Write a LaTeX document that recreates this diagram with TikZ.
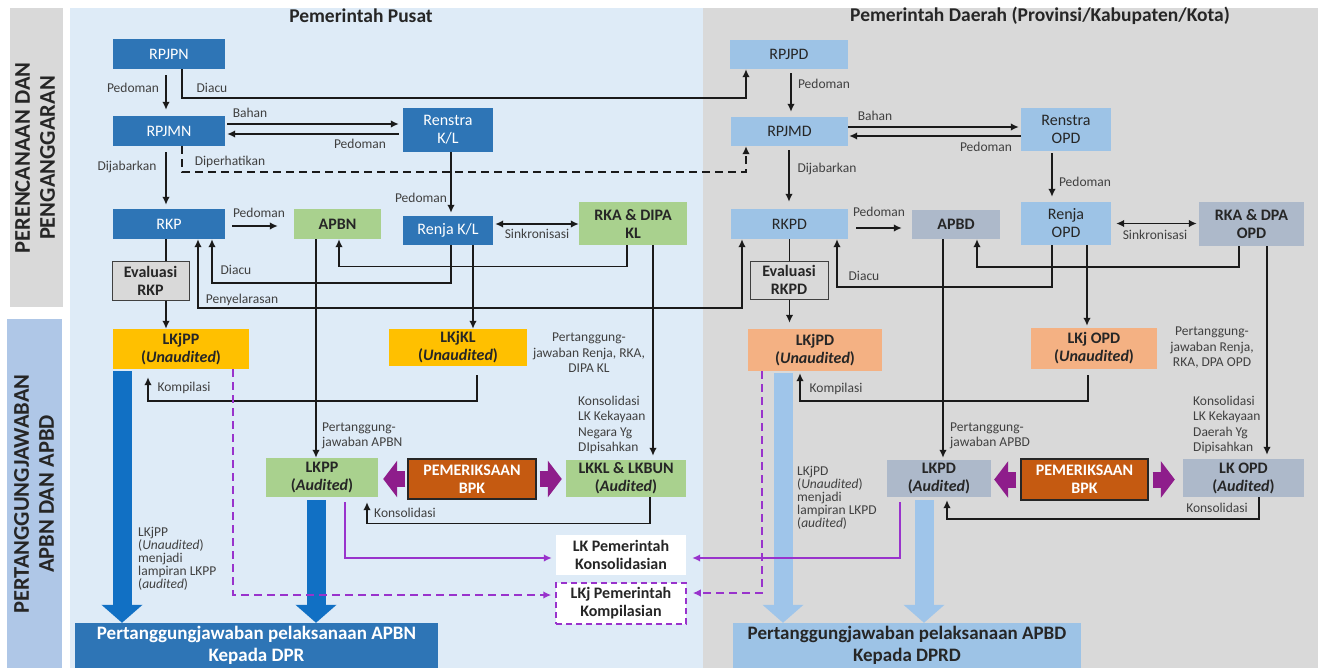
\documentclass[tikz,border=0pt]{standalone}
\usepackage{fontspec}
\setmainfont{Carlito}
\usetikzlibrary{arrows.meta}

\definecolor{cPusat}{HTML}{2E75B6}
\definecolor{cDaerah}{HTML}{9DC3E6}
\definecolor{cHijau}{HTML}{A9D18E}
\definecolor{cKuning}{HTML}{FFC000}
\definecolor{cPeach}{HTML}{F4B183}
\definecolor{cAbuBiru}{HTML}{ADB9CA}
\definecolor{cBPK}{HTML}{C55A11}
\definecolor{cPanelBiru}{HTML}{DEEBF7}
\definecolor{cPanelAbu}{HTML}{D9D9D9}
\definecolor{cBandBiru}{HTML}{AFC7E7}
\definecolor{cPanah}{HTML}{1170C4}
\definecolor{cPanahMuda}{HTML}{9FC5EA}
\definecolor{cUnguTebal}{HTML}{8E1D8B}
\definecolor{cUngu}{HTML}{9933CC}
\definecolor{cGaris}{HTML}{1A1A1A}
\definecolor{cTeks}{HTML}{262626}
\definecolor{cKet}{HTML}{404040}

\newcommand{\fontkotak}{\fontsize{16}{18}\selectfont}
\newcommand{\fontket}{\fontsize{13.5}{15.5}\selectfont}
\newcommand{\fontketrapat}{\fontsize{13.5}{13}\selectfont}
\newcommand{\fontjudul}{\fontsize{19.5}{21}\selectfont\bfseries}
\newcommand{\fontband}{\fontsize{22.5}{25}\selectfont\bfseries}
\newcommand{\fontbesar}{\fontsize{19}{22}\selectfont\bfseries}

\begin{document}
\begin{tikzpicture}[x=1pt, y=-1pt,
  kotak/.style={rectangle, inner sep=0pt, align=center, font=\fontkotak, text=cTeks},
  kotakpusat/.style={kotak, fill=cPusat, text=white},
  kotakdaerah/.style={kotak, fill=cDaerah},
  kotakhijau/.style={kotak, fill=cHijau, font=\fontkotak\bfseries},
  kotakkuning/.style={kotak, fill=cKuning, font=\fontkotak\bfseries},
  kotakpeach/.style={kotak, fill=cPeach, font=\fontkotak\bfseries},
  kotakabu/.style={kotak, fill=cAbuBiru, font=\fontkotak\bfseries},
  kotakeval/.style={kotak, fill=cPanelAbu, draw=cKet, line width=1pt, font=\fontkotak\bfseries},
  kotakbpk/.style={kotak, fill=cBPK, draw=cTeks, line width=1.2pt, text=white, font=\fontkotak\bfseries},
  kotakputih/.style={kotak, fill=white, font=\fontkotak\bfseries},
  ket/.style={inner sep=0pt, font=\fontket, text=cKet},
  panah/.style={line width=1.5pt, draw=cGaris, -{Latex[length=8pt,width=7.5pt]}},
  panahdua/.style={line width=1.5pt, draw=cGaris, {Latex[length=8pt,width=7.5pt]}-{Latex[length=8pt,width=7.5pt]}},
  garis/.style={line width=1.5pt, draw=cGaris},
  panahbesar/.style={line width=19pt, -{Triangle[width=40pt,length=18pt]}},
  panahbpk/.style={line width=16pt, draw=cUnguTebal, -{Triangle[width=36pt,length=14pt]}},
  garisungu/.style={line width=1.5pt, draw=cUngu, -{Latex[length=8pt,width=7.5pt]}},
  putus/.style={dash pattern=on 8pt off 5pt}]

\useasboundingbox (0,0) rectangle (1321,671);
\fill[white] (0,0) rectangle (1321,671);
\fill[cPanelBiru] (70,8) rectangle (703,668);
\fill[cPanelAbu] (703,8) rectangle (1318,668);
\fill[cPanelAbu] (10,8) rectangle (63,307);
\fill[cBandBiru] (7,319) rectangle (62,668);

\node[rotate=90, align=center, font=\fontband, text=cTeks] (bandrencana) at (35,158) {PERENCANAAN DAN\\PENGANGGARAN};
\node[rotate=90, align=center, font=\fontband, text=cTeks] (bandtanggung) at (34,494) {PERTANGGUNGJAWABAN\\APBN DAN APBD};

\node[font=\fontjudul, text=cTeks] (judulpusat) at (361,16) {Pemerintah Pusat};
\node[font=\fontjudul, text=cTeks] (juduldaerah) at (1040,16) {Pemerintah Daerah (Provinsi/Kabupaten/Kota)};

% pemerintah pusat
\node[kotakpusat, minimum width=112pt, minimum height=30pt] (rpjpn) at (169,54) {RPJPN};
\node[kotakpusat, minimum width=112pt, minimum height=30pt] (rpjmn) at (169,131) {RPJMN};
\node[kotakpusat, minimum width=112pt, minimum height=30pt] (rkp) at (169,224) {RKP};
\node[kotakpusat, minimum width=90pt, minimum height=44pt] (renstrakl) at (448,130) {Renstra\\K/L};
\node[kotakpusat, minimum width=90pt, minimum height=29pt] (renjakl) at (448,230.5) {Renja K/L};
\node[kotakhijau, minimum width=87pt, minimum height=30pt] (apbn) at (337.5,224) {APBN};
\node[kotakhijau, minimum width=108pt, minimum height=43pt] (rkadipa) at (633,223.5) {RKA \& DIPA\\KL};
\node[kotakeval, minimum width=77pt, minimum height=39pt] (evalrkp) at (150.5,280.5) {Evaluasi\\RKP};
\node[kotakkuning, minimum width=136pt, minimum height=40pt] (lkjpp) at (181,349) {LKjPP\\(\textit{Unaudited})};
\node[kotakkuning, minimum width=138pt, minimum height=37pt] (lkjkl) at (458,347.5) {LKjKL\\(\textit{Unaudited})};
\node[kotakhijau, minimum width=112pt, minimum height=39pt] (lkpp) at (322,477.5) {LKPP\\(\textit{Audited})};
\node[kotakbpk, minimum width=128pt, minimum height=40pt] (bpkpusat) at (472,479) {PEMERIKSAAN\\BPK};
\node[kotakhijau, minimum width=120pt, minimum height=37pt] (lkkl) at (626,478.5) {LKKL \& LKBUN\\(\textit{Audited})};
\node[kotakputih, minimum width=130pt, minimum height=40pt] (lkkons) at (621,555) {LK Pemerintah\\Konsolidasian};
\node[kotakputih, draw=cUngu, line width=1.5pt, dash pattern=on 6pt off 4pt, minimum width=130pt, minimum height=41pt] (lkjkomp) at (621,603.5) {LKj Pemerintah\\Kompilasian};
\node[kotak, fill=cPusat, text=white, font=\fontbesar, minimum width=363pt, minimum height=45pt] (prtapbn) at (256.5,645.5) {Pertanggungjawaban pelaksanaan APBN\\Kepada DPR};

% pemerintah daerah
\node[kotakdaerah, minimum width=118pt, minimum height=29pt] (rpjpd) at (789,54.5) {RPJPD};
\node[kotakdaerah, minimum width=117pt, minimum height=29pt] (rpjmd) at (789.5,131.5) {RPJMD};
\node[kotakdaerah, minimum width=117pt, minimum height=30pt] (rkpd) at (789.5,224) {RKPD};
\node[kotakdaerah, minimum width=90pt, minimum height=43pt] (renstraopd) at (1066,129.5) {Renstra\\OPD};
\node[kotakabu, minimum width=88pt, minimum height=29pt] (apbd) at (956,224.5) {APBD};
\node[kotakdaerah, minimum width=90pt, minimum height=43pt] (renjaopd) at (1066,223.5) {Renja\\OPD};
\node[kotakabu, minimum width=105pt, minimum height=44pt] (rkadpa) at (1251.5,224) {RKA \& DPA\\OPD};
\node[kotakeval, minimum width=78pt, minimum height=38pt] (evalrkpd) at (789,280) {Evaluasi\\RKPD};
\node[kotakpeach, minimum width=134pt, minimum height=42pt] (lkjpd) at (815,350) {LKjPD\\(\textit{Unaudited})};
\node[kotakpeach, minimum width=126pt, minimum height=41pt] (lkjopd) at (1094,348.5) {LKj OPD\\(\textit{Unaudited})};
\node[kotakabu, minimum width=104pt, minimum height=37pt] (lkpd) at (939,478.5) {LKPD\\(\textit{Audited})};
\node[kotakbpk, minimum width=127pt, minimum height=41pt] (bpkdaerah) at (1084.5,479.5) {PEMERIKSAAN\\BPK};
\node[kotakabu, minimum width=121pt, minimum height=38pt] (lkopd) at (1243.5,478) {LK OPD\\(\textit{Audited})};
\node[kotak, fill=cDaerah, font=\fontbesar, minimum width=348pt, minimum height=45pt] (prtapbd) at (907,645.5) {Pertanggungjawaban pelaksanaan APBD\\Kepada DPRD};

% alur pusat
\draw[panah, shorten <=6pt, shorten >=6pt] ([xshift=-3pt]rpjpn.south) -- ([xshift=-3pt]rpjmn.north);
\draw[panah] ([xshift=13pt]rpjpn.south) -- ++(0,29) -| ([xshift=-43pt]rpjpd.south);
\draw[panah, shorten <=2pt, shorten >=4pt] ([yshift=7pt]rpjmn.east) -- ([yshift=6pt]renstrakl.west);
\draw[panah, shorten <=4pt, shorten >=2pt] ([yshift=-4pt]renstrakl.west) -- ([yshift=-3pt]rpjmn.east);
\draw[panah, putus] ([xshift=13pt]rpjmn.south) -- ++(0,26) -| ([xshift=-43.5pt]rpjmd.south);
\draw[panah, shorten <=6pt, shorten >=4pt] ([xshift=-3pt]rpjmn.south) -- ([xshift=-3pt]rkp.north);
\draw[panah, shorten <=7pt, shorten >=16pt] ([yshift=-2pt]rkp.east) -- ([yshift=-2pt]rkp.east -| apbn.west);
\draw[panah, shorten >=3pt] ([xshift=3pt]renstrakl.south) -- ([xshift=3pt]renjakl.north);
\draw[panahdua, shorten <=2pt] ([yshift=6.5pt]renjakl.east) -- ([yshift=6.5pt]renjakl.east -| rkadipa.west);
\draw[panah] ([xshift=3pt]renjakl.south) -- ++(0,38) -| ([xshift=43pt]rkp.south);
\draw[panah] ([xshift=-6pt]rkadipa.south) -- ++(0,21.5) -| ([xshift=1.5pt]apbn.south);
\draw[garis] ([xshift=-3pt]rkp.south) -- ([xshift=-3pt]rkp.south |- evalrkp.north);
\draw[panah] ([xshift=-3pt]rkp.south |- evalrkp.south) -- ([xshift=-3pt]rkp.south |- lkjpp.north);
\draw[panahdua] ([xshift=29pt]rkp.south) -- ++(0,69) -| ([xshift=-47.5pt]rkpd.south);
\draw[panah] ([xshift=-21.5pt]apbn.south) -- ([xshift=-21.5pt]apbn.south |- lkpp.north);
\draw[panah] ([xshift=25pt]renjakl.south) -- ([xshift=25pt]renjakl.south |- lkjkl.north);
\draw[panah, shorten >=4pt] ([xshift=20pt]rkadipa.south) -- ([xshift=20pt]rkadipa.south |- lkkl.north);
\draw[panah, shorten <=9pt, shorten >=8pt] ([xshift=19pt]lkjkl.south) -- ++(0,35) -| ([xshift=-33pt]lkjpp.south);
\draw[panah, shorten >=5pt] ([xshift=24pt]lkkl.south) -- ++(0,26.5) -| ([xshift=45pt]lkpp.south);
\draw[panahbesar, draw=cPanah, shorten <=2pt] ([xshift=-59pt]lkjpp.south) -- ([xshift=-59pt]lkjpp.south |- prtapbn.north);
\draw[panahbesar, draw=cPanah, shorten <=3pt] ([xshift=-6pt]lkpp.south) -- ([xshift=-6pt]lkpp.south |- prtapbn.north);
\draw[panahbpk, shorten <=2pt, shorten >=5pt] (bpkpusat.west) -- (bpkpusat.west -| lkpp.east);
\draw[panahbpk, shorten <=3pt, shorten >=4pt] (bpkpusat.east) -- (bpkpusat.east -| lkkl.west);
\draw[garisungu, shorten <=5pt, shorten >=4pt] ([xshift=23pt]lkpp.south) |- ([yshift=-3pt]lkkons.west);
\draw[garisungu, putus, shorten >=4pt] ([xshift=52pt]lkjpp.south) |- ([yshift=8.5pt]lkjkomp.west);

% alur daerah
\draw[panah, shorten <=4pt, shorten >=5pt] ([xshift=2pt]rpjpd.south) -- ([xshift=1.5pt]rpjmd.north);
\draw[panah, shorten >=2pt] ([yshift=4.5pt]rpjmd.east) -- ([yshift=2.5pt]renstraopd.west);
\draw[panah, shorten >=1pt] ([yshift=-6.5pt]renstraopd.west) -- ([yshift=-4.5pt]rpjmd.east);
\draw[panah, shorten <=4pt, shorten >=7pt] ([xshift=-0.5pt]rpjmd.south) -- ([xshift=-0.5pt]rkpd.north);
\draw[panah, shorten <=2pt, shorten >=5pt] ([xshift=-14pt]renstraopd.south) -- ([xshift=-14pt]renjaopd.north);
\draw[panah, shorten <=8pt, shorten >=10pt] ([yshift=-4pt]rkpd.east) -- ([yshift=-4pt]rkpd.east -| apbd.west);
\draw[panahdua, shorten <=5pt, shorten >=2pt] (renjaopd.east) -- (renjaopd.east -| rkadpa.west);
\draw[panah] ([xshift=-14pt]renjaopd.south) -- ++(0,42) -| ([xshift=47.5pt]rkpd.south);
\draw[panah] ([xshift=-12.5pt]rkadpa.south) -- ++(0,21) -| ([xshift=21pt]apbd.south);
\draw[garis] (rkpd.south) -- (rkpd.south |- evalrkpd.north);
\draw[panah, shorten >=6pt] (rkpd.south |- evalrkpd.south) -- (rkpd.south |- lkjpd.north);
\draw[panah, shorten >=2pt] ([xshift=-13pt]apbd.south) -- ([xshift=-13pt]apbd.south |- lkpd.north);
\draw[panah, shorten >=2pt] ([xshift=21pt]renjaopd.south) -- ([xshift=21pt]renjaopd.south |- lkjopd.north);
\draw[panah, shorten >=4pt] ([xshift=15.5pt]rkadpa.south) -- ([xshift=15.5pt]rkadpa.south |- lkopd.north);
\draw[panah, shorten <=6pt, shorten >=2pt] ([xshift=-6pt]lkjopd.south) -- ++(0,32) -| ([xshift=-15pt]lkjpd.south);
\draw[panah, shorten >=3pt] ([xshift=15.5pt]lkopd.south) -- ++(0,22) -| ([xshift=8pt]lkpd.south);
\draw[panahbesar, draw=cPanahMuda, shorten <=2pt] ([xshift=-32pt]lkjpd.south) -- ([xshift=-32pt]lkjpd.south |- prtapbd.north);
\draw[panahbesar, draw=cPanahMuda, shorten <=3pt] ([xshift=-15pt]lkpd.south) -- ([xshift=-15pt]lkpd.south |- prtapbd.north);
\draw[panahbpk, shorten <=4pt, shorten >=3pt] (bpkdaerah.west) -- (bpkdaerah.west -| lkpd.east);
\draw[panahbpk, shorten <=4pt, shorten >=8pt] (bpkdaerah.east) -- (bpkdaerah.east -| lkopd.west);
\draw[garisungu, shorten <=5pt, shorten >=6pt] ([xshift=-39pt]lkpd.south) |- ([yshift=-3pt]lkkons.east);
\draw[garisungu, putus, shorten >=6pt] ([xshift=-53pt]lkjpd.south) |- ([yshift=10.5pt]lkjkomp.east);

% keterangan pusat
\node[ket] (kpedoman1) at (133,88) {Pedoman};
\node[ket] (kdiacu1) at (212,88) {Diacu};
\node[ket] (kbahan1) at (250,113) {Bahan};
\node[ket] (kpedoman2) at (360,144) {Pedoman};
\node[ket] (kdiperhatikan) at (230,162) {Diperhatikan};
\node[ket] (kdijabarkan1) at (127,167) {Dijabarkan};
\node[ket] (kpedoman3) at (259,213) {Pedoman};
\node[ket] (kpedoman4) at (421,198) {Pedoman};
\node[ket] (ksinkron1) at (537,234) {Sinkronisasi};
\node[ket] (kdiacu2) at (236,270) {Diacu};
\node[ket] (kselaras) at (242,300) {Penyelarasan};
\node[ket] (kkompilasi1) at (184,388) {Kompilasi};
\node[ket] (kkonsol1) at (405,513) {Konsolidasi};
\node[ket, anchor=west, align=left] (ktgapbn) at (322,436) {Pertanggung-\\jawaban APBN};
\node[ket, align=center] (ktgrenja1) at (589,353) {Pertanggung-\\jawaban Renja, RKA,\\DIPA KL};
\node[ket, anchor=west, align=left] (kkekayaan1) at (578,425) {Konsolidasi\\LK Kekayaan\\Negara Yg\\DIpisahkan};
\node[ket, font=\fontketrapat, anchor=west, align=left] (klampiran1) at (138,559) {LKjPP\\(\textit{Unaudited})\\menjadi\\lampiran LKPP\\(\textit{audited})};

% keterangan daerah
\node[ket] (kpedoman5) at (824,84) {Pedoman};
\node[ket] (kbahan2) at (875,116) {Bahan};
\node[ket] (kpedoman6) at (986,147) {Pedoman};
\node[ket] (kdijabarkan2) at (827,169) {Dijabarkan};
\node[ket] (kpedoman7) at (1085,182) {Pedoman};
\node[ket] (kpedoman8) at (879,212) {Pedoman};
\node[ket] (ksinkron2) at (1155,235) {Sinkronisasi};
\node[ket] (kdiacu3) at (864,276) {Diacu};
\node[ket] (kkompilasi2) at (836,389) {Kompilasi};
\node[ket] (kkonsol2) at (1217,508) {Konsolidasi};
\node[ket, anchor=west, align=left] (ktgapbd) at (950,436) {Pertanggung-\\jawaban APBD};
\node[ket, align=center] (ktgrenja2) at (1212,348) {Pertanggung-\\jawaban Renja,\\RKA, DPA OPD};
\node[ket, anchor=west, align=left] (kkekayaan2) at (1193,425) {Konsolidasi\\LK Kekayaan\\Daerah Yg\\Dipisahkan};
\node[ket, font=\fontketrapat, anchor=west, align=left] (klampiran2) at (797,497.5) {LKjPD\\(\textit{Unaudited})\\menjadi\\lampiran LKPD\\(\textit{audited})};
\end{tikzpicture}
\end{document}
